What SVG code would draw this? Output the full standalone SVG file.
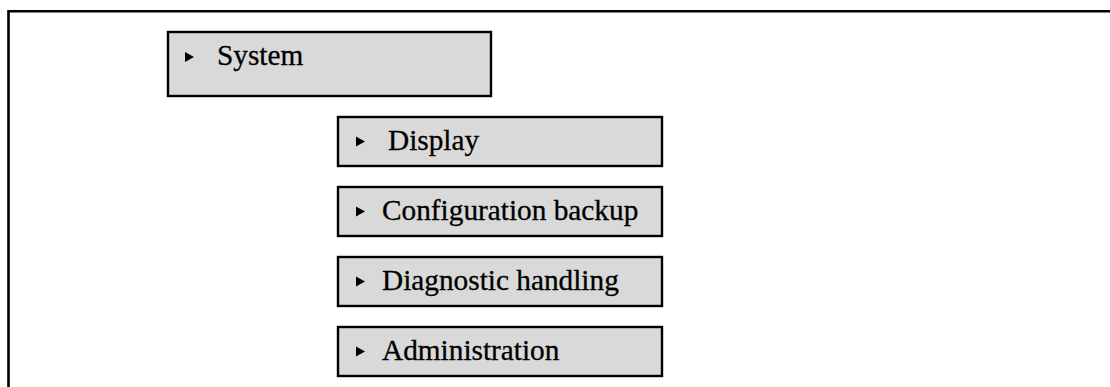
<svg xmlns="http://www.w3.org/2000/svg" width="1110" height="387" viewBox="0 0 1110 387">
  <style>
    .frame { fill: none; stroke: #000; stroke-width: 2.6; }
    .box { fill: #d9d9d9; stroke: #000; stroke-width: 2.4; }
    .bullet { fill: #000; }
    .label { font-family: "Liberation Serif", "Times New Roman", serif; font-size: 29.3px; fill: #000; stroke: #000; stroke-width: 0.3; }
  </style>
  <rect width="1110" height="387" fill="#fff"/>
  <!-- outer frame, open to the right and bottom -->
  <path class="frame" d="M8.5 400 V11.3 H1120"/>
  <g id="connectors"/>
  <g id="node-system">
    <rect class="box" x="168" y="32" width="323" height="64"/>
    <polygon class="bullet" points="185,52 194,57 185,62"/>
    <text class="label" x="217" y="65">System</text>
  </g>
  <g id="node-display">
    <rect class="box" x="338" y="117" width="324" height="49"/>
    <polygon class="bullet" points="356,136.5 365,141.5 356,146.5"/>
    <text class="label" x="388" y="150">Display</text>
  </g>
  <g id="node-configuration-backup">
    <rect class="box" x="338" y="187" width="324" height="49"/>
    <polygon class="bullet" points="356,206.5 365,211.5 356,216.5"/>
    <text class="label" x="382" y="220">Configuration backup</text>
  </g>
  <g id="node-diagnostic-handling">
    <rect class="box" x="338" y="257" width="324" height="49"/>
    <polygon class="bullet" points="356,276.5 365,281.5 356,286.5"/>
    <text class="label" x="382" y="290">Diagnostic handling</text>
  </g>
  <g id="node-administration">
    <rect class="box" x="338" y="327" width="324" height="49"/>
    <polygon class="bullet" points="356,346.5 365,351.5 356,356.5"/>
    <text class="label" x="382" y="360">Administration</text>
  </g>
</svg>
